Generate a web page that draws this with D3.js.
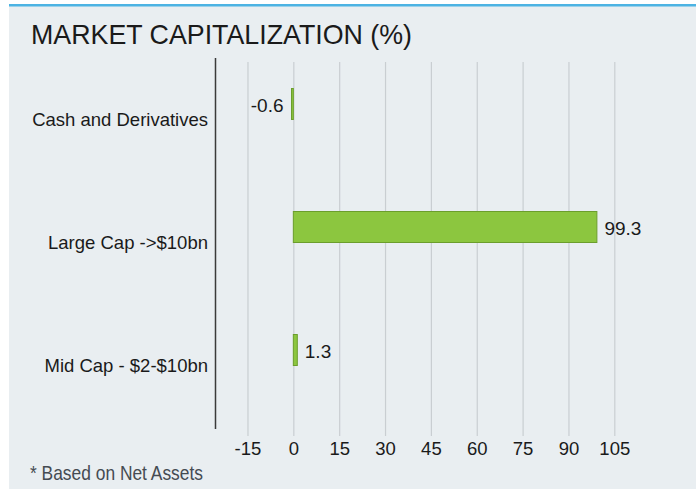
<!DOCTYPE html>
<html>
  <head>
    <meta charset='utf-8' />
    <title>Market Capitalization</title>
    <script src="https://cdn.jsdelivr.net/npm/d3@7"></script>
    <style>
    html, body { margin: 0; padding: 0; background: #fff; }
    text { font-family: "Liberation Sans", Arial, sans-serif; fill: #1a1a1a; }
    </style>
  </head>
  <body>
    <div id="chart"></div>
    <script>
var categories = ["Cash and Derivatives", "Large Cap ->$10bn", "Mid Cap - $2-$10bn"];
var values = [-0.6, 99.3, 1.3];
var tickValues = [-15, 0, 15, 30, 45, 60, 75, 90, 105];

var width = 696,
    height = 489;

// plain hyphen minus, like the original
var fmt = d3.formatLocale({decimal: ".", thousands: ",", grouping: [3], currency: ["", ""], minus: "-"});

var svg = d3.select("#chart").append("svg")
    .attr("width", width)
    .attr("height", height);

// panel + blue top rule
svg.append("rect")
    .attr("x", 9).attr("y", 4)
    .attr("width", width - 9).attr("height", height - 4)
    .style("fill", "#e9eef1");
svg.append("rect")
    .attr("x", 9).attr("y", 4)
    .attr("width", width - 9).attr("height", 2.5)
    .style("fill", "#4cb3e3");

svg.append("text")
    .attr("x", 31)
    .attr("y", 44)
    .attr("textLength", 381)
    .attr("lengthAdjust", "spacingAndGlyphs")
    .style("font-size", "28px")
    .text("MARKET CAPITALIZATION (%)");

var x = d3.scaleLinear()
    .domain([-25, 120])
    .range([216.9, 216.9 + 145 * 3.057]);

var y = d3.scaleBand()
    .domain(categories)
    .range([42.5, 411.5])
    .paddingInner(0)
    .paddingOuter(0);

var barH = 31;

// gridlines + tick labels
var xAxis = d3.axisBottom(x)
    .tickValues(tickValues)
    .tickSize(-(436 - 62))
    .tickPadding(6)
    .tickFormat(fmt.format("d"));

var gx = svg.append("g")
    .attr("transform", "translate(0,436)")
    .call(xAxis);
gx.select(".domain").remove();
gx.selectAll(".tick line")
    .style("stroke", "#c9ced2")
    .style("stroke-width", 1.2);
gx.selectAll(".tick text")
    .style("font-size", "18.5px")
    .style("font-family", "\"Liberation Sans\", Arial, sans-serif")
    .style("fill", "#1a1a1a");

// left axis line
svg.append("line")
    .attr("x1", 215.5).attr("x2", 215.5)
    .attr("y1", 58).attr("y2", 429)
    .style("stroke", "#3a3a3a")
    .style("stroke-width", 1.5);

// category labels
svg.selectAll(".cat")
    .data(categories)
  .enter().append("text")
    .attr("class", "cat")
    .attr("x", 208)
    .attr("y", function(d) { return y(d) + y.bandwidth() / 2 + 16; })
    .attr("dy", "0.35em")
    .style("text-anchor", "end")
    .style("font-size", "18.5px")
    .text(function(d) { return d; });

// bars
svg.selectAll(".bar")
    .data(values)
  .enter().append("rect")
    .attr("class", "bar")
    .attr("x", function(d) { return x(Math.min(0, d)); })
    .attr("y", function(d, i) { return y(categories[i]) + y.bandwidth() / 2 - barH / 2; })
    .attr("width", function(d) { return Math.abs(x(d) - x(0)); })
    .attr("height", barH)
    .style("fill", "#8cc63f")
    .style("stroke", "#6b9e2c")
    .style("stroke-width", 1);

// value labels
svg.selectAll(".val")
    .data(values)
  .enter().append("text")
    .attr("class", "val")
    .attr("x", function(d) { return d < 0 ? x(d) - 8 : x(d) + 7.5; })
    .attr("y", function(d, i) { return y(categories[i]) + y.bandwidth() / 2 + 1; })
    .attr("dy", "0.35em")
    .style("text-anchor", function(d) { return d < 0 ? "end" : "start"; })
    .style("font-size", "19px")
    .text(function(d) { return fmt.format(".1f")(d); });

svg.append("text")
    .attr("x", 30)
    .attr("y", 480)
    .attr("textLength", 173)
    .attr("lengthAdjust", "spacingAndGlyphs")
    .style("font-family", "\"Liberation Sans Narrow\", \"Arial Narrow\", \"Liberation Sans\", sans-serif")
    .style("font-size", "21px")
    .style("fill", "#454b52")
    .text("* Based on Net Assets");
    </script>
  </body>
</html>
